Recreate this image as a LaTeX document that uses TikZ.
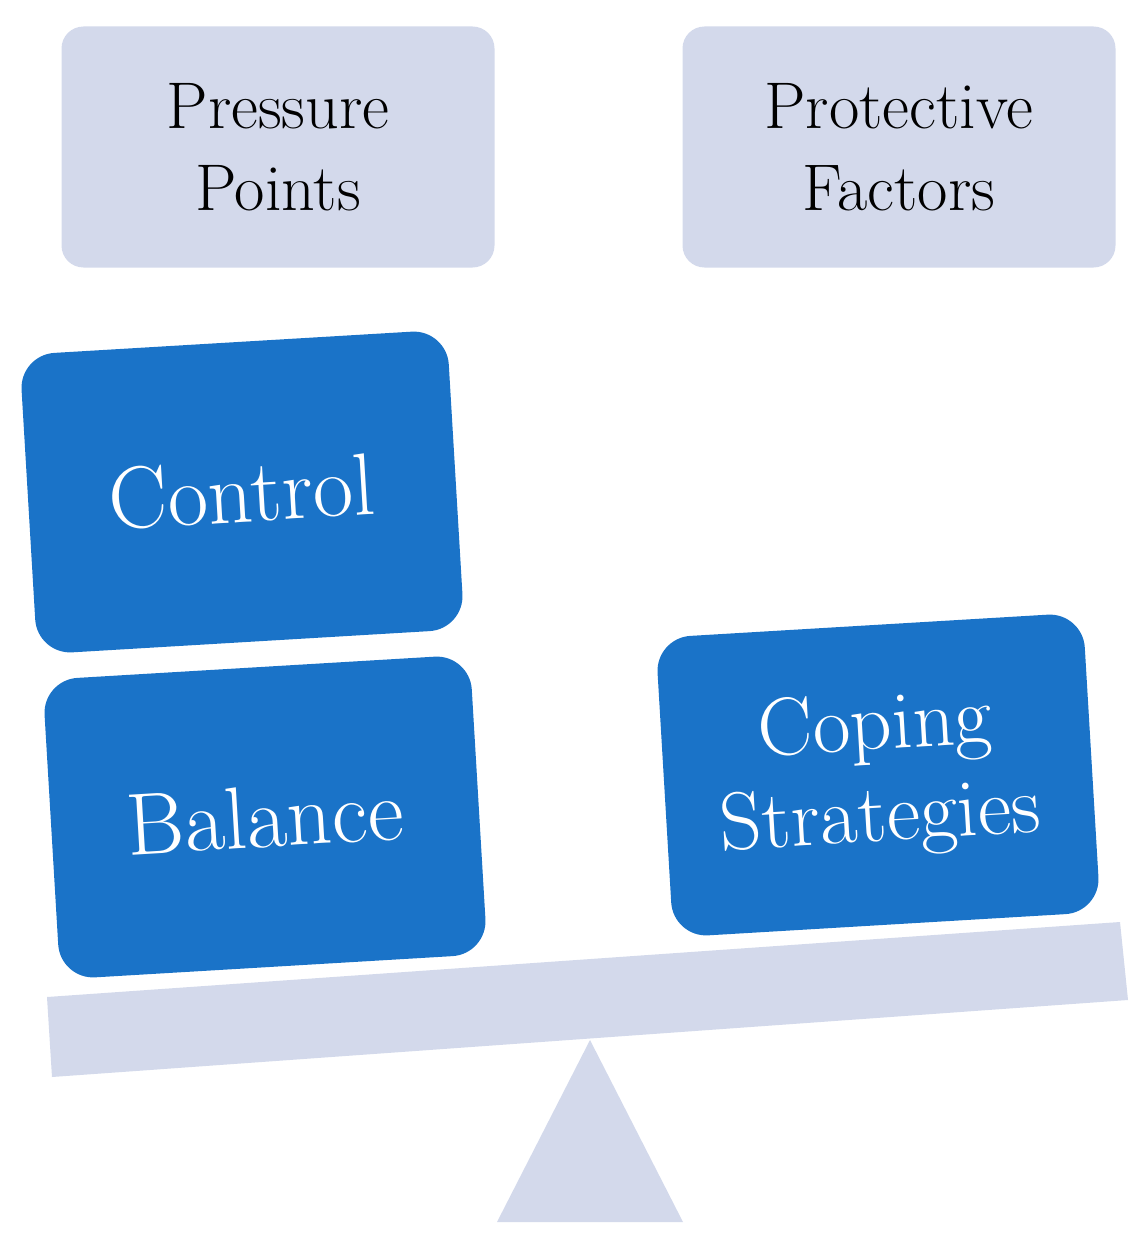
\documentclass[tikz,border=0pt]{standalone}
\begin{document}
\begin{tikzpicture}[x=1pt,y=-1pt,
  light/.style={fill=lav,draw=none},
  top/.style={light,rounded corners=22pt,minimum width=433pt,minimum height=241pt,align=center,font=\fontsize{66}{82}\selectfont,text=black},
  blk/.style={fill=blu,draw=none,rounded corners=35pt,minimum width=428pt,minimum height=300pt,align=center,font=\fontsize{88}{96}\selectfont,text=white,rotate=3.4}]
\definecolor{lav}{HTML}{D3D9EB}
\definecolor{blu}{HTML}{1A73C8}
\useasboundingbox (0,0) rectangle (1146,1244);
\node[top] (pp) at (278,147) {Pressure\\Points};
\node[top] (pf) at (899,147) {Protective\\Factors};
\node[blk] (ctl) at (242,492) {Control};
\node[blk] (bal) at (265,817) {Balance};
\node[blk,font=\fontsize{82}{92}\selectfont] (cop) at (878,775) {Coping\\Strategies};
\fill[lav] (47,997) -- (1120,922) -- (1128,1000) -- (52,1077) -- cycle;
\fill[lav] (590,1040) -- (683,1222) -- (497,1222) -- cycle;
\end{tikzpicture}
\end{document}
